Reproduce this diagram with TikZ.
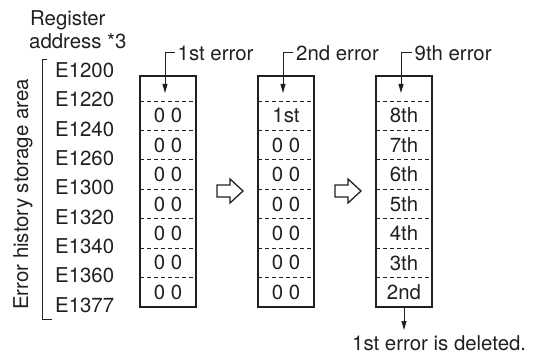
\documentclass[tikz,border=0pt]{standalone}
\usepackage{fontspec}
\setmainfont{TeX Gyre Heros}
\usepackage{xcolor}
\usetikzlibrary{arrows.meta, positioning}
\definecolor{ink}{RGB}{35,31,32}

\begin{document}
\begin{tikzpicture}[x=1pt, y=-1pt, every node/.style={inner sep=0pt, text=ink, font=\fontsize{20.4}{22.5}\selectfont}]
    \tikzset{
        rahmen/.style={draw=ink, line width=1.3pt, minimum width=56pt, minimum height=231pt},
        trennlinie/.style={draw=ink, line width=0.9pt, dash pattern=on 4pt off 3pt},
        zeiger/.style={draw=ink, line width=1pt, -{Triangle[length=9pt, width=5pt]}},
        klammer/.style={draw=ink, line width=1pt},
        hohlpfeil/.style={draw=ink, line width=1.3pt, fill=white, line join=miter}
    }
    \useasboundingbox (0,0) rectangle (533,353);

    % --- Beschriftung links ---
    \node[anchor=base west] (reg) at (30,26) {Register};
    \node[anchor=base west] (adr) at (29,49) {address *3};
    \node[anchor=base, rotate=90] (bereich) at (28,194.5) {Error history storage area};
    \draw[klammer] (47,60) -- (42,60) -- (42,319) -- (52,319);
    \foreach \adresse [count=\i from 0] in {E1200,E1220,E1240,E1260,E1300,E1320,E1340,E1360,E1377}
        \node[anchor=west] (a\i) at (55,{70+29.375*\i}) {\adresse};

    % --- Speicherbloecke ---
    \foreach \bx/\nr/\fehler/\inhalt in {
        140/1/1st/{0 0,0 0,0 0,0 0,0 0,0 0,0 0},
        258/2/2nd/{1st,0 0,0 0,0 0,0 0,0 0,0 0},
        376/3/9th/{8th,7th,6th,5th,4th,3th,2nd}} {
        \node[rahmen] (box\nr) at (\bx+28,191.5) {};
        \foreach \zeile [count=\k] in \inhalt {
            \draw[trennlinie] (\bx,{101+29.43*(\k-1)}) -- ++(56,0);
            \node (z\nr\k) at (\bx+28,{101+29.43*(\k-0.5)}) {\zeile};
        }
        % neuer Fehler von oben
        \node[anchor=west] (f\nr) at (\bx+37+\nr*0.5,53) {\fehler\ error};
        \coordinate (ein\nr) at (\bx+25,93);
        \draw[zeiger] ([xshift=-3pt]f\nr.west) -| (ein\nr);
    }

    % --- Hohlpfeile ---
    \foreach \dx in {0,118}
        \draw[hohlpfeil, xshift=\dx] (217,185) -- (230,185) -- (230,179) -- (243,191) -- (230,203) -- (230,197) -- (217,197) -- cycle;

    % --- geloeschter Eintrag ---
    \node[anchor=west] (weg) at (352,343.5) {1st error is deleted.};
    \coordinate (aus) at (box3.south |- 0,330);
    \draw[zeiger] (box3.south) -- (aus);
\end{tikzpicture}
\end{document}
